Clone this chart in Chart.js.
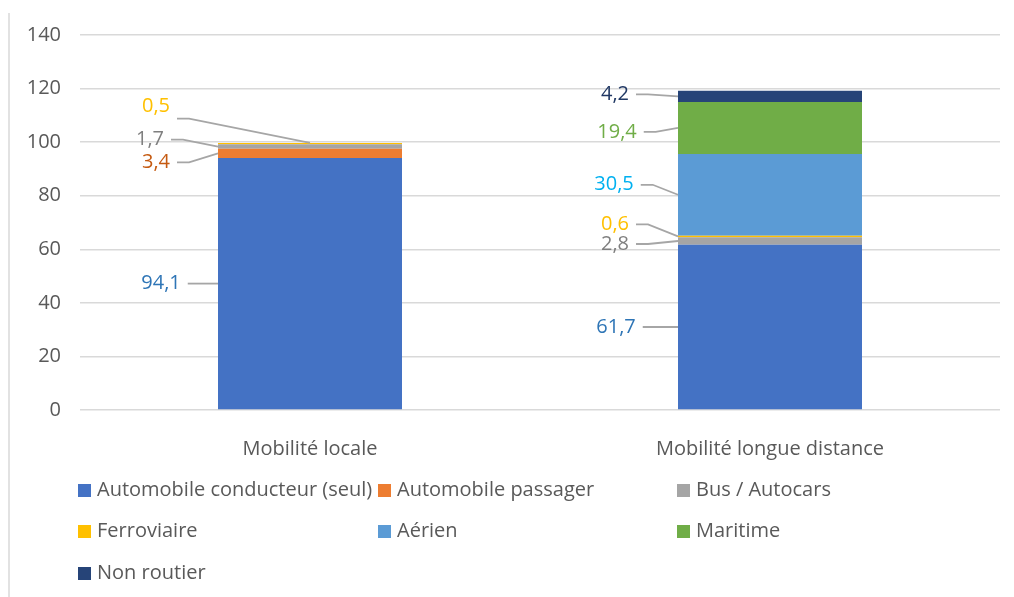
<!DOCTYPE html>
<html>
<head>
<meta charset="utf-8">
<script src="https://cdn.jsdelivr.net/npm/chart.js@4.4.1/dist/chart.umd.min.js"></script>
<style>
    html, body { margin: 0; padding: 0; background: #fff; }
    #wrap { position: relative; width: 1014px; height: 597px; }
</style>
</head>
<body>
<div id="wrap"><canvas id="chart" width="1014" height="597"></canvas></div>
<script>
// Chart data
const categories = ['Mobilité locale', 'Mobilité longue distance'];
const conducteur = [94.1, 61.7];
const passager = [3.4, null];
const bus = [1.7, 2.8];
const ferroviaire = [0.5, 0.6];
const aerien = [null, 30.5];
const maritime = [null, 19.4];
const nonRoutier = [null, 4.2];
const yMin = 0, yMax = 140, yStep = 20;

const seriesNames = ['Automobile conducteur (seul)', 'Automobile passager', 'Bus / Autocars',
    'Ferroviaire', 'Aérien', 'Maritime', 'Non routier'];
const seriesValues = [conducteur, passager, bus, ferroviaire, aerien, maritime, nonRoutier];
const barColors = ['#4472C4', '#ED7D31', '#A5A5A5', '#FFC000', '#5B9BD5', '#70AD47', '#264478'];
const labelColors = ['#2E75B6', '#C55A11', '#7F7F7F', '#FFC000', '#00B0F0', '#70AD47', '#203864'];

// where each data label sits, in px from the left-middle of its segment
const labelShift = [
    [[-57, 0], [-62, 0]],
    [[-62, 9], null],
    [[-68, -7], [-63, 3]],
    [[-62, -37], [-63, -12]],
    [null, [-64, -10]],
    [null, [-61, 4]],
    [null, [-63, -2]]
];
const topLeader = '3-0'; // this label's leader points to the top of the bar

const FONT_SIZE = 20;
const FONT = FONT_SIZE + 'px "Open Sans"';
const TEXT = '#595959';

const leaderLabels = {
    id: 'leaderLabels',
    afterDatasetsDraw(chart) {
        const ctx = chart.ctx;
        ctx.save();
        ctx.font = FONT;
        ctx.textAlign = 'center';
        ctx.textBaseline = 'middle';
        ctx.strokeStyle = '#A6A6A6';
        ctx.lineWidth = 1.8;
        chart.data.datasets.forEach((ds, i) => {
            const meta = chart.getDatasetMeta(i);
            meta.data.forEach((bar, j) => {
                const v = ds.data[j];
                if (v == null) return;
                const shift = labelShift[i][j];
                const left = bar.x - bar.width / 2;
                const midY = (bar.y + bar.base) / 2;
                const tx = left + shift[0], ty = midY + shift[1];
                const text = v.toFixed(1).replace('.', ',');
                const w = ctx.measureText(text).width;
                let sx = tx + w / 2 + 7, sy = ty, ex = left, ey = midY;
                if (i + '-' + j === topLeader) {
                    sy = ty + 12; ex = bar.x; ey = bar.y;
                }
                ctx.beginPath();
                ctx.moveTo(sx, sy);
                ctx.lineTo(sx + 12, sy);
                ctx.lineTo(ex, ey);
                ctx.stroke();
                ctx.fillStyle = labelColors[i];
                ctx.fillText(text, tx, ty);
            });
        });
        ctx.restore();
    }
};

// legend in a 3 column grid + left frame line
const gridLegend = {
    id: 'gridLegend',
    afterDraw(chart) {
        const ctx = chart.ctx;
        const cols = [78, 378, 677];
        const rows = [490, 531, 573];
        ctx.save();
        ctx.strokeStyle = '#D9D9D9';
        ctx.lineWidth = 1.5;
        ctx.beginPath();
        ctx.moveTo(9, 13);
        ctx.lineTo(9, 597);
        ctx.stroke();
        ctx.font = FONT;
        ctx.textAlign = 'left';
        ctx.textBaseline = 'middle';
        chart.data.datasets.forEach((ds, i) => {
            const x = cols[i % 3], y = rows[Math.floor(i / 3)];
            ctx.fillStyle = ds.backgroundColor;
            ctx.fillRect(x, y - 6, 13, 13);
            ctx.fillStyle = TEXT;
            ctx.fillText(ds.label, x + 19, y);
        });
        ctx.restore();
    }
};

new Chart(document.getElementById('chart'), {
    type: 'bar',
    data: {
        labels: categories,
        datasets: seriesValues.map((vals, i) => ({
            label: seriesNames[i],
            data: vals,
            backgroundColor: barColors[i],
            borderWidth: 0,
            categoryPercentage: 1,
            barPercentage: 0.4
        }))
    },
    options: {
        responsive: false,
        animation: false,
        layout: { padding: { top: 35, right: 14, bottom: 137, left: 0 } },
        plugins: {
            legend: { display: false },
            tooltip: { enabled: false }
        },
        scales: {
            x: {
                stacked: true,
                grid: { display: false },
                border: { display: false },
                ticks: { color: TEXT, font: { family: 'Open Sans', size: FONT_SIZE }, padding: 19 },
                afterFit: s => { s.height = 50; }
            },
            y: {
                stacked: true,
                min: yMin,
                max: yMax,
                ticks: { stepSize: yStep, color: TEXT, font: { family: 'Open Sans', size: FONT_SIZE }, padding: 19 },
                grid: { color: '#D9D9D9', lineWidth: 1.5, drawTicks: false },
                border: { display: false },
                afterFit: s => { s.width = 80; }
            }
        }
    },
    plugins: [leaderLabels, gridLegend]
});
</script>
</body>
</html>
